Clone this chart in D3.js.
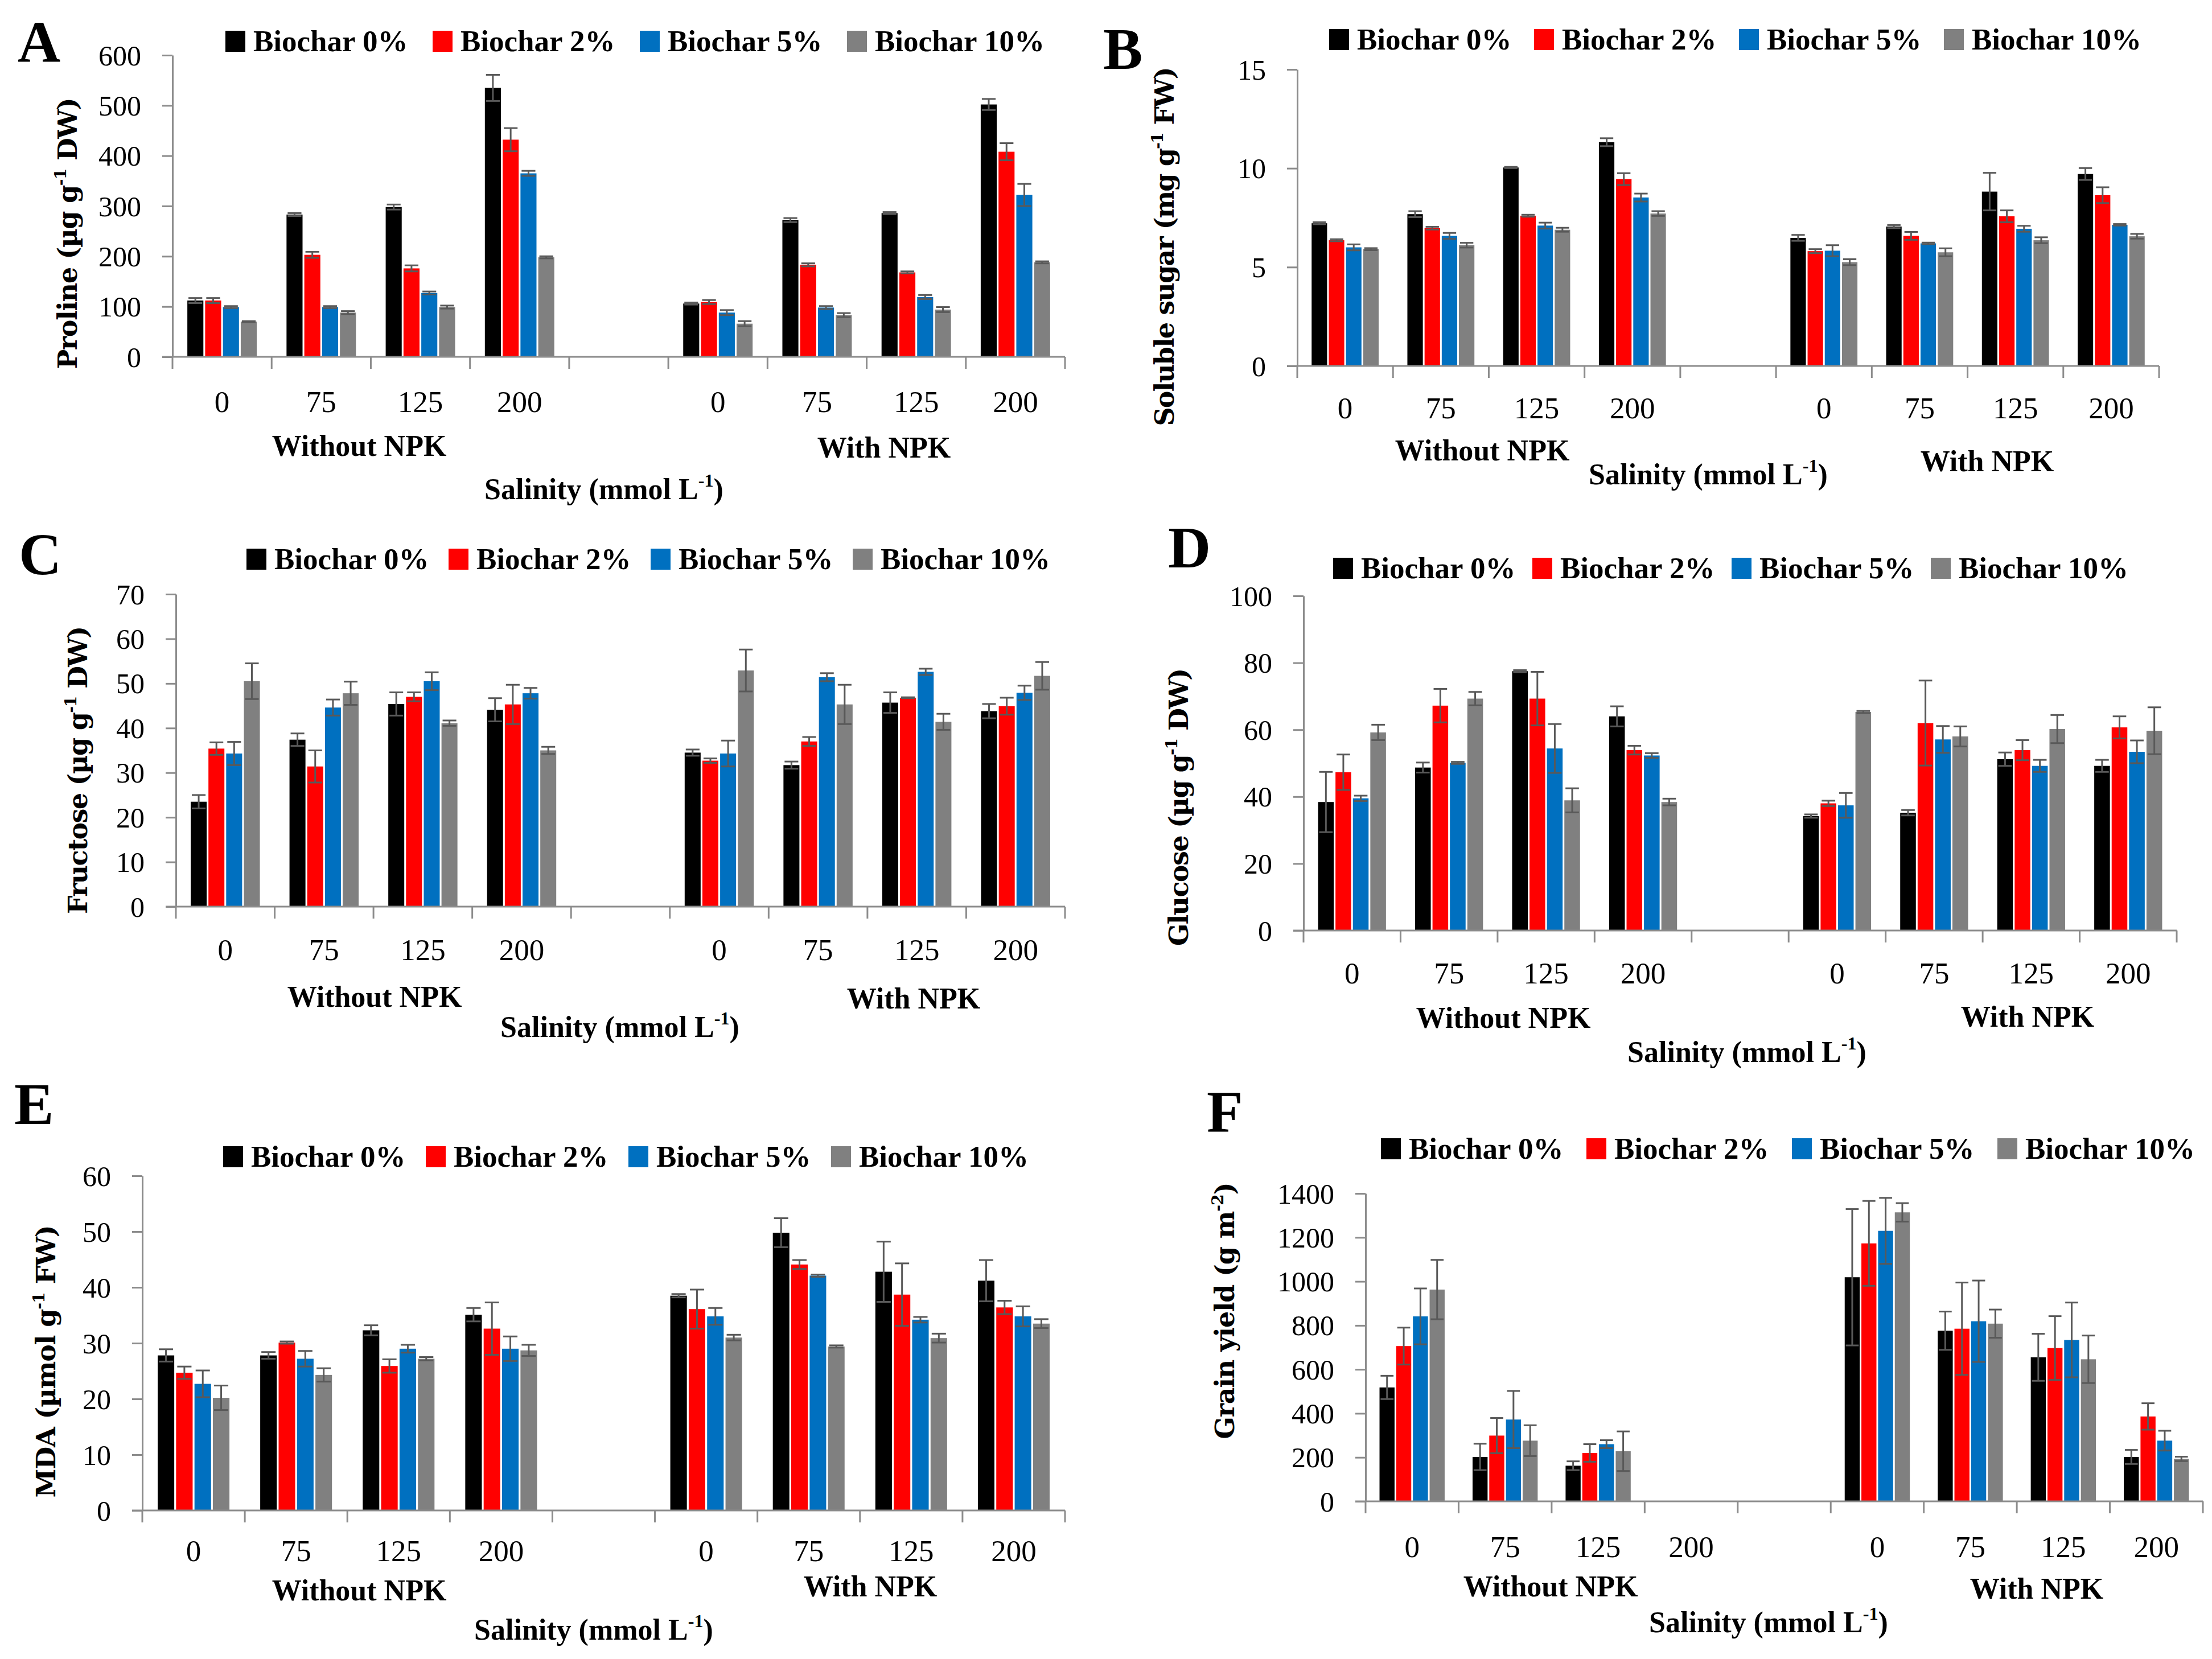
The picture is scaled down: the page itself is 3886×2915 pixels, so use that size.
<!DOCTYPE html>
<html><head><meta charset="utf-8">
<script src="https://cdn.jsdelivr.net/npm/d3@7/dist/d3.min.js"></script>
<style>html,body{margin:0;padding:0;background:#fff;}</style>
</head><body>
<svg id="c" width="3886" height="2915"></svg>
<script>
// ---------- DATA ----------
const categories = ["0", "75", "125", "200"];
const groups = ["Without NPK", "With NPK"];
const series = ["Biochar 0%", "Biochar 2%", "Biochar 5%", "Biochar 10%"];
const seriesColors = ["#000000", "#FF0000", "#0070C0", "#808080"];

// each row: one biochar level; 8 values = Without NPK (0,75,125,200), With NPK (0,75,125,200)
const prolineMean = [
  [112, 283, 298, 535, 106, 272, 286, 502],
  [112, 203, 176, 432, 109, 183, 168, 408],
  [99, 99, 127, 365, 88, 98, 119, 322],
  [70, 88, 99, 198, 66, 83, 94, 188]];
const prolineErr = [
  [5, 3, 5, 26, 2, 4, 2, 11],
  [5, 6, 6, 23, 4, 3, 2, 17],
  [2, 2, 3, 5, 5, 3, 4, 22],
  [1, 3, 3, 2, 5, 4, 5, 2]];

const sugarMean = [
  [7.22, 7.68, 10.04, 11.32, 6.48, 7.05, 8.82, 9.71],
  [6.36, 6.97, 7.6, 9.45, 5.81, 6.58, 7.57, 8.64],
  [6.0, 6.58, 7.1, 8.52, 5.83, 6.2, 6.94, 7.14],
  [5.91, 6.11, 6.89, 7.71, 5.25, 5.75, 6.36, 6.56]];
const sugarErr = [
  [0.05, 0.15, 0.03, 0.2, 0.15, 0.08, 0.95, 0.3],
  [0.05, 0.07, 0.05, 0.3, 0.1, 0.2, 0.3, 0.4],
  [0.15, 0.15, 0.15, 0.2, 0.28, 0.04, 0.15, 0.04],
  [0.05, 0.12, 0.1, 0.12, 0.15, 0.2, 0.15, 0.12]];

const fructoseMean = [
  [23.5, 37.4, 45.4, 44.1, 34.5, 31.7, 45.7, 43.8],
  [35.4, 31.4, 47.0, 45.3, 32.7, 37.0, 46.8, 44.9],
  [34.3, 44.6, 50.5, 47.8, 34.3, 51.4, 52.6, 47.9],
  [50.5, 47.8, 41.1, 35.0, 52.9, 45.3, 41.4, 51.7]];
const fructoseErr = [
  [1.5, 1.4, 2.6, 2.6, 0.7, 0.8, 2.3, 1.6],
  [1.4, 3.6, 1.0, 4.4, 0.5, 1.0, 0.1, 1.9],
  [2.6, 1.8, 2.0, 1.2, 2.9, 0.9, 0.7, 1.6],
  [4.0, 2.6, 0.6, 0.8, 4.7, 4.4, 1.8, 3.1]];

const glucoseMean = [
  [38.4, 48.7, 77.5, 64.0, 34.2, 35.2, 51.2, 49.2],
  [47.3, 67.2, 69.3, 53.9, 38.0, 62.0, 53.9, 60.7],
  [39.5, 50.1, 54.4, 52.3, 37.4, 57.1, 49.2, 53.4],
  [59.2, 69.3, 38.9, 38.4, 65.3, 58.0, 60.2, 59.7]];
const glucoseErr = [
  [9.0, 1.5, 0.3, 3.0, 0.5, 0.8, 2.0, 1.8],
  [5.3, 5.0, 8.0, 1.3, 0.8, 12.7, 3.0, 3.3],
  [0.8, 0.3, 7.3, 0.7, 3.7, 4.0, 1.8, 3.4],
  [2.3, 2.0, 3.6, 1.0, 0.3, 3.0, 4.2, 7.0]];

const mdaMean = [
  [27.8, 27.8, 32.3, 35.1, 38.5, 49.8, 42.8, 41.2],
  [24.7, 30.1, 25.9, 32.6, 36.1, 44.1, 38.7, 36.4],
  [22.7, 27.2, 29.0, 29.0, 34.8, 42.1, 34.2, 34.8],
  [20.2, 24.3, 27.2, 28.7, 31.0, 29.4, 30.9, 33.5]];
const mdaErr = [
  [1.1, 0.6, 0.9, 1.2, 0.3, 2.6, 5.4, 3.7],
  [1.1, 0.2, 1.2, 4.7, 3.5, 0.8, 5.6, 1.2],
  [2.4, 1.4, 0.7, 2.2, 1.5, 0.2, 0.5, 1.8],
  [2.2, 1.2, 0.3, 1.0, 0.5, 0.2, 0.8, 0.8]];

const yieldMean = [
  [518, 202, 162, null, 1019, 776, 655, 202],
  [706, 299, 220, null, 1173, 785, 697, 386],
  [841, 372, 260, null, 1230, 819, 734, 276],
  [963, 276, 228, null, 1314, 808, 646, 193]];
const yieldErr = [
  [53, 60, 20, null, 310, 87, 107, 32],
  [84, 80, 40, null, 193, 210, 145, 60],
  [127, 130, 18, null, 150, 185, 170, 45],
  [135, 70, 90, null, 42, 64, 108, 10]];

const xTitle = [{t: "Salinity (mmol L"}, {t: "-1", sup: true}, {t: ")"}];

// ---------- LAYOUT ----------
const panels = [
  {letter: "A", mean: prolineMean, err: prolineErr, yMax: 600, yStep: 100,
   left: 303, right: 1871, yTop: 97, y0: 627, tickY: 706,
   without: [631, 783], withN: [1553, 786], sal: [1061, 861],
   legX: 396, legDX: 364, legY: 72, letterPos: [31, 109],
   title: [{t: "Proline (µg g"}, {t: "-1", sup: true}, {t: " DW)"}], titleX: 118, titleY: 410, titleLen: 477},
  {letter: "B", mean: sugarMean, err: sugarErr, yMax: 15, yStep: 5,
   left: 2279, right: 3793, yTop: 122, y0: 643, tickY: 717,
   without: [2604, 791], withN: [3491, 810], sal: [3001, 835],
   legX: 2335, legDX: 360, legY: 69, letterPos: [1938, 121],
   title: [{t: "Soluble sugar (mg g"}, {t: "-1", sup: true}, {t: " FW)"}], titleX: 2045, titleY: 433, titleLen: 631},
  {letter: "C", mean: fructoseMean, err: fructoseErr, yMax: 70, yStep: 10,
   left: 309, right: 1871, yTop: 1044, y0: 1593, tickY: 1669,
   without: [658, 1751], withN: [1605, 1754], sal: [1089, 1806],
   legX: 433, legDX: 355, legY: 982, letterPos: [33, 1009],
   title: [{t: "Fructose (µg g"}, {t: "-1", sup: true}, {t: " DW)"}], titleX: 136, titleY: 1353, titleLen: 506},
  {letter: "D", mean: glucoseMean, err: glucoseErr, yMax: 100, yStep: 20,
   left: 2290, right: 3824, yTop: 1047, y0: 1635, tickY: 1710,
   without: [2641, 1788], withN: [3562, 1786], sal: [3069, 1850],
   legX: 2342, legDX: 350, legY: 998, letterPos: [2052, 997],
   title: [{t: "Glucose (µg g"}, {t: "-1", sup: true}, {t: " DW)"}], titleX: 2070, titleY: 1418, titleLen: 488},
  {letter: "E", mean: mdaMean, err: mdaErr, yMax: 60, yStep: 10,
   left: 250, right: 1871, yTop: 2066, y0: 2654, tickY: 2725,
   without: [631, 2794], withN: [1529, 2787], sal: [1043, 2865],
   legX: 392, legDX: 356, legY: 2032, letterPos: [25, 1975],
   title: [{t: "MDA (µmol g"}, {t: "-1", sup: true}, {t: " FW)"}], titleX: 80, titleY: 2392, titleLen: 479},
  {letter: "F", mean: yieldMean, err: yieldErr, yMax: 1400, yStep: 200,
   left: 2399, right: 3870, yTop: 2097, y0: 2638, tickY: 2718,
   without: [2724, 2787], withN: [3578, 2791], sal: [3107, 2852],
   legX: 2426, legDX: 361, legY: 2018, letterPos: [2120, 1988],
   title: [{t: "Grain yield (g m"}, {t: "-2", sup: true}, {t: ")"}], titleX: 2151, titleY: 2303, titleLen: 451}
];

const SERIF = "'Liberation Serif', 'Times New Roman', serif";
const TITLEFONT = "'DejaVu Serif', serif";
const AXIS = "#8c8c8c";
const ERRC = "#595959";

const svg = d3.select("#c");
svg.append("rect").attr("width", 3886).attr("height", 2915).attr("fill", "#fff");

function richText(sel, parts, fs) {
  parts.forEach(p => {
    if (p.sup) {
      sel.append("tspan").attr("dy", -0.42 * fs).attr("font-size", fs * 0.62).text(p.t);
    } else {
      const ts = sel.append("tspan").text(p.t);
      if (sel.selectAll("tspan").size() > 1) ts.attr("dy", 0.42 * fs);
    }
  });
}

// slot keys: 4 without, 1 blank, 4 with
const slots = ["w0", "w1", "w2", "w3", "gap", "n0", "n1", "n2", "n3"];
const slotOfValue = [0, 1, 2, 3, 5, 6, 7, 8];

panels.forEach(P => {
  const g = svg.append("g");
  const y = d3.scaleLinear().domain([0, P.yMax]).range([P.y0, P.yTop]);
  const x0 = d3.scaleBand().domain(slots).range([P.left, P.right]).padding(0);
  const bw = x0.bandwidth();
  const x1 = d3.scaleBand().domain(series).range([0.15 * bw, 0.85 * bw]).paddingInner(0.1).paddingOuter(0);

  // bars
  series.forEach((s, si) => {
    const rows = P.mean[si].map((v, i) => ({v, e: P.err[si][i], slot: slots[slotOfValue[i]]})).filter(d => d.v != null);
    g.selectAll(null).data(rows).enter().append("rect")
      .attr("x", d => x0(d.slot) + x1(s))
      .attr("width", x1.bandwidth())
      .attr("y", d => y(d.v))
      .attr("height", d => y(0) - y(d.v))
      .attr("fill", seriesColors[si]);
    // error bars
    const cap = x1.bandwidth() * 0.86;
    rows.forEach(d => {
      const cx = x0(d.slot) + x1(s) + x1.bandwidth() / 2;
      const yt = y(d.v + d.e), yb = y(d.v - d.e);
      g.append("line").attr("x1", cx).attr("x2", cx).attr("y1", yt).attr("y2", yb)
        .attr("stroke", ERRC).attr("stroke-width", 3);
      [yt, yb].forEach(yy => g.append("line").attr("x1", cx - cap / 2).attr("x2", cx + cap / 2)
        .attr("y1", yy).attr("y2", yy).attr("stroke", ERRC).attr("stroke-width", 3));
    });
  });

  // y axis
  const ticks = d3.range(0, P.yMax + P.yStep / 2, P.yStep);
  const yAxis = d3.axisLeft(y).tickValues(ticks).tickSize(18).tickSizeOuter(0).tickPadding(37)
    .tickFormat(d3.format("d"));
  const ya = g.append("g").attr("transform", `translate(${P.left},0)`).call(yAxis);
  ya.attr("font-family", SERIF);
  ya.select(".domain").attr("stroke", AXIS).attr("stroke-width", 3);
  ya.selectAll(".tick line").attr("stroke", AXIS).attr("stroke-width", 3);
  ya.selectAll(".tick text").attr("font-family", SERIF).attr("font-weight", "normal")
    .attr("font-size", 50).attr("fill", "#000").attr("dy", "0.34em");

  // x axis
  g.append("line").attr("x1", P.left - 18).attr("x2", P.right).attr("y1", P.y0).attr("y2", P.y0)
    .attr("stroke", AXIS).attr("stroke-width", 3);
  const bounds = slots.map(s => x0(s)).concat([P.right]);
  g.selectAll(null).data(bounds).enter().append("line")
    .attr("x1", d => d).attr("x2", d => d).attr("y1", P.y0).attr("y2", P.y0 + 21)
    .attr("stroke", AXIS).attr("stroke-width", 3);

  // category labels
  slotOfValue.forEach((si, i) => {
    g.append("text").attr("x", x0(slots[si]) + bw / 2).attr("y", P.tickY + 18)
      .attr("text-anchor", "middle").attr("font-family", SERIF).attr("font-weight", "normal")
      .attr("font-size", 53).text(categories[i % 4]);
  });
  g.append("text").attr("x", P.without[0]).attr("y", P.without[1] + 18).attr("text-anchor", "middle")
    .attr("font-family", SERIF).attr("font-weight", "bold").attr("font-size", 52).text(groups[0]);
  g.append("text").attr("x", P.withN[0]).attr("y", P.withN[1] + 18).attr("text-anchor", "middle")
    .attr("font-family", SERIF).attr("font-weight", "bold").attr("font-size", 52).text(groups[1]);
  const st = g.append("text").attr("x", P.sal[0]).attr("y", P.sal[1] + 16).attr("text-anchor", "middle")
    .attr("font-family", SERIF).attr("font-weight", "bold").attr("font-size", 52);
  richText(st, xTitle, 52);

  // y title
  const yt = g.append("text").attr("transform", `translate(${P.titleX + 17},${P.titleY}) rotate(-90)`)
    .attr("text-anchor", "middle").attr("font-family", TITLEFONT).attr("font-weight", "bold")
    .attr("font-size", 46).attr("textLength", P.titleLen).attr("lengthAdjust", "spacing");
  richText(yt, P.title, 46);

  // legend
  series.forEach((s, si) => {
    const lx = P.legX + si * P.legDX;
    g.append("rect").attr("x", lx).attr("y", P.legY - 18).attr("width", 35).attr("height", 37)
      .attr("fill", seriesColors[si]);
    g.append("text").attr("x", lx + 49).attr("y", P.legY + 18).attr("font-family", SERIF)
      .attr("font-weight", "bold").attr("font-size", 53).text(s);
  });

  // panel letter
  g.append("text").attr("x", P.letterPos[0]).attr("y", P.letterPos[1]).attr("font-family", SERIF)
    .attr("font-weight", "bold").attr("font-size", 104).text(P.letter);
});
</script>
</body></html>
